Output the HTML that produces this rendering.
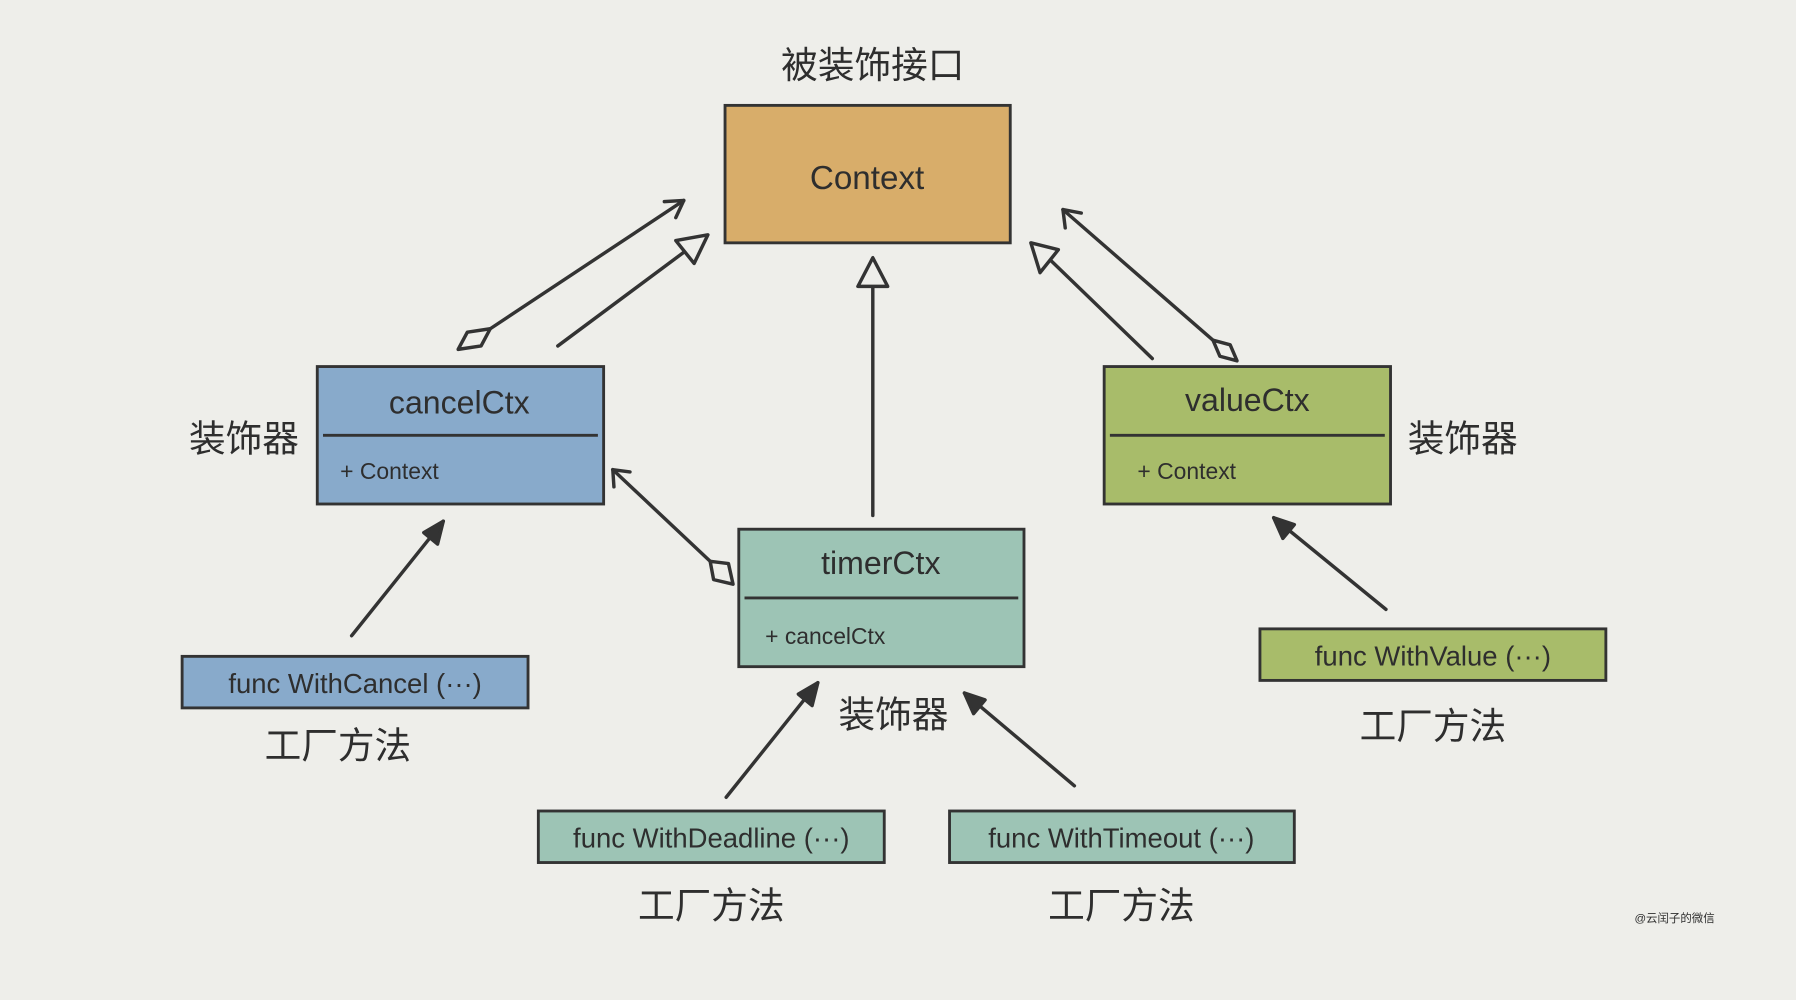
<!DOCTYPE html>
<html><head><meta charset="utf-8"><style>
html,body{margin:0;padding:0;background:#eeeeea;}
svg{display:block;}
text{font-family:"Liberation Sans","Noto Sans CJK SC",sans-serif;fill:#2e2e2e;}
</style></head><body>
<svg width="1796" height="1000" viewBox="0 0 1568 873" preserveAspectRatio="none" xmlns="http://www.w3.org/2000/svg">
<rect width="1568" height="873" fill="#eeeeea"/>
<g stroke="#333" stroke-width="2.5">
<rect x="633" y="92" width="249" height="120" fill="#d8ad6a"/>
<rect x="277" y="320" width="250" height="120" fill="#88aacb"/>
<line x1="282" y1="380" x2="522" y2="380"/>
<rect x="964" y="320" width="250" height="120" fill="#a8bc6a"/>
<line x1="969" y1="380" x2="1209" y2="380"/>
<rect x="645" y="462" width="249" height="120" fill="#9dc4b5"/>
<line x1="650" y1="522" x2="889" y2="522"/>
<rect x="159" y="573" width="302" height="45" fill="#88aacb"/>
<rect x="1100" y="549" width="302" height="45" fill="#a8bc6a"/>
<rect x="470" y="708" width="302" height="45" fill="#9dc4b5"/>
<rect x="829" y="708" width="301" height="45" fill="#9dc4b5"/>
</g>
<g stroke="#333" stroke-width="3" fill="none" stroke-linecap="round" stroke-linejoin="round">
<line x1="428" y1="287" x2="597" y2="175"/>
<polygon points="400,305 408,290 428,287 420,302" fill="#eeeeea"/>
<polyline points="580,176 597,175 590,190"/>
<line x1="487" y1="302" x2="600" y2="218"/>
<polygon points="618,205 590,210 606,230" fill="#eeeeea"/>
<line x1="762" y1="450" x2="762" y2="250"/>
<polygon points="762,225 749,250 775,250" fill="#eeeeea"/>
<line x1="1006" y1="313" x2="918" y2="228"/>
<polygon points="900,212 924,218 908,238" fill="#eeeeea"/>
<line x1="1059" y1="297" x2="928" y2="183"/>
<polygon points="1080,315 1074,301 1059,297 1065,311" fill="#eeeeea"/>
<polyline points="930,199 928,183 944,186"/>
<line x1="620" y1="490" x2="535" y2="410"/>
<polygon points="640,510 636,492 620,490 623,506" fill="#eeeeea"/>
<polyline points="536,425 535,410 550,412"/>
<line x1="307" y1="555" x2="387" y2="455"/>
<polygon points="387,455 370,465 382,475" fill="#333"/>
<line x1="1210" y1="532" x2="1112" y2="452"/>
<polygon points="1112,452 1120,470 1130,458" fill="#333"/>
<line x1="634" y1="696" x2="714" y2="596"/>
<polygon points="714,596 697,606 709,616" fill="#333"/>
<line x1="938" y1="686" x2="842" y2="605"/>
<polygon points="842,605 850,623 860,611" fill="#333"/>
</g>
<text x="762" y="68" font-size="32" text-anchor="middle">被装饰接口</text>
<text x="757" y="165" font-size="29" text-anchor="middle">Context</text>
<text x="401" y="361" font-size="28" text-anchor="middle">cancelCtx</text>
<text x="297" y="418" font-size="20">+ Context</text>
<text x="1089" y="359" font-size="28" text-anchor="middle">valueCtx</text>
<text x="993" y="418" font-size="20">+ Context</text>
<text x="769" y="501" font-size="28" text-anchor="middle">timerCtx</text>
<text x="668" y="562" font-size="20">+ cancelCtx</text>
<text x="213" y="394" font-size="32" text-anchor="middle">装饰器</text>
<text x="1277" y="394" font-size="32" text-anchor="middle">装饰器</text>
<text x="780" y="635" font-size="32" text-anchor="middle">装饰器</text>
<text x="310" y="605" font-size="24" text-anchor="middle">func WithCancel (···)</text>
<text x="1251" y="581" font-size="24" text-anchor="middle">func WithValue (···)</text>
<text x="621" y="740" font-size="24" text-anchor="middle">func WithDeadline (···)</text>
<text x="979" y="740" font-size="24" text-anchor="middle">func WithTimeout (···)</text>
<text x="295" y="662" font-size="32" text-anchor="middle">工厂方法</text>
<text x="1251" y="645" font-size="32" text-anchor="middle">工厂方法</text>
<text x="621" y="802" font-size="32" text-anchor="middle">工厂方法</text>
<text x="979" y="802" font-size="32" text-anchor="middle">工厂方法</text>
<text x="1462" y="805" font-size="10" text-anchor="middle">@云闰子的微信</text>
</svg>
</body></html>
